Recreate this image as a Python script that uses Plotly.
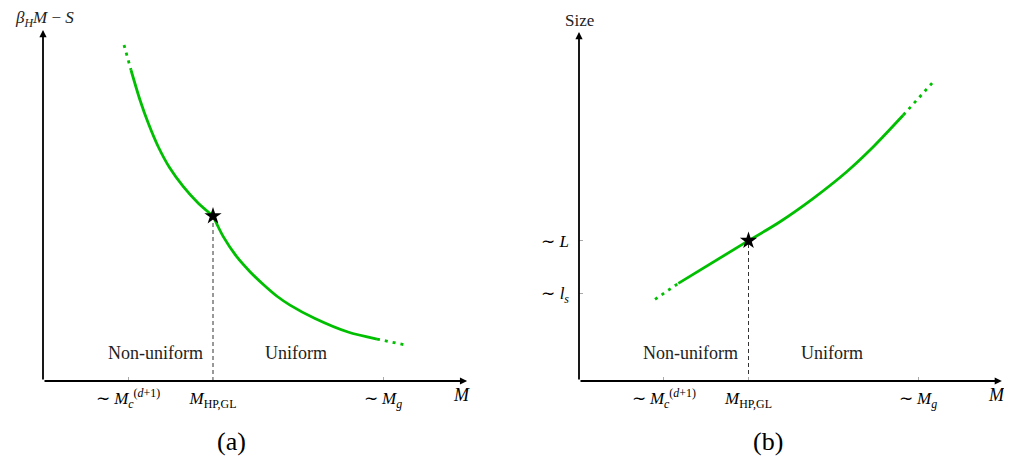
import plotly.graph_objects as go

# ---------------- data ----------------
# M in units where M_c^(d+1)=1, M_HP,GL=2, M_g=4
# panel (a): beta_H M - S ; non-uniform branch (first point = dotted extension end)
a_M_lo = [0.953, 1.035, 1.141, 1.239, 1.356, 1.494, 1.651, 1.827, 2.0]
a_val_lo = [3.953, 3.659, 3.306, 3.032, 2.756, 2.502, 2.286, 2.091, 1.941]
# uniform branch (last point = dotted extension end)
a_M_hi = [2.0, 2.121, 2.279, 2.435, 2.592, 2.749, 2.906, 3.2, 3.588, 3.929, 4.259]
a_val_hi = [1.941, 1.698, 1.462, 1.286, 1.135, 1.000, 0.893, 0.735, 0.576, 0.494, 0.424]

# panel (b): Size
b_M_lo = [0.897, 1.172, 2.0]
b_val_lo = [0.961, 1.149, 1.651]
b_M_hi = [2.0, 2.372, 2.765, 3.159, 3.473, 3.827, 4.181]
b_val_hi = [1.651, 1.874, 2.149, 2.462, 2.756, 3.129, 3.521]

star_M = 2.0

x_tickvals = [1, 2, 4]
x_ticktext = ["∼ <i>M</i><sub><i>c</i></sub><sup>(<i>d</i>+1)</sup>",
              "<i>M</i><sub>HP,GL</sub>",
              "∼ <i>M</i><sub><i>g</i></sub>"]
b_y_tickvals = [1.03, 1.651]
b_y_ticktext = ["∼ <i>l</i><sub><i>s</i></sub>", "∼ <i>L</i>"]

region_labels = ["Non-uniform", "Uniform"]
region_M = [1.318, 2.98]
region_val = 0.33

GREEN = "#00BF00"
FONT = "Liberation Serif"

# page has an 8px body margin
OFF = 8
W, H = 1012 - 2 * OFF, 464 - 2 * OFF


def px(x):
    return (x - OFF) / W


def py(y):
    return 1 - (y - OFF) / H


fig = go.Figure()


def add_branches(M_lo, V_lo, M_hi, V_hi, xa, ya):
    dot = dict(color=GREEN, width=2.8, dash="3px,5px")
    solid = dict(color=GREEN, width=2.8, shape="spline", smoothing=0.8)
    common = dict(mode="lines", xaxis=xa, yaxis=ya, showlegend=False, hoverinfo="skip")
    fig.add_trace(go.Scatter(x=M_lo[:2], y=V_lo[:2], line=dot, **common))
    fig.add_trace(go.Scatter(x=M_lo[1:], y=V_lo[1:], line=solid, **common))
    fig.add_trace(go.Scatter(x=M_hi[:-1], y=V_hi[:-1], line=solid, **common))
    fig.add_trace(go.Scatter(x=M_hi[-2:], y=V_hi[-2:], line=dot, **common))


def add_star(sv, xa, ya):
    fig.add_trace(go.Scatter(x=[star_M, star_M], y=[0, sv], mode="lines",
                             line=dict(color="#333333", width=1, dash="4px,3px"),
                             xaxis=xa, yaxis=ya, showlegend=False, hoverinfo="skip"))
    fig.add_trace(go.Scatter(x=[star_M], y=[sv], mode="markers",
                             marker=dict(symbol="star", size=13, color="black"),
                             xaxis=xa, yaxis=ya, showlegend=False, hoverinfo="skip"))


add_branches(a_M_lo, a_val_lo, a_M_hi, a_val_hi, "x", "y")
add_star(a_val_hi[0], "x", "y")
add_branches(b_M_lo, b_val_lo, b_M_hi, b_val_hi, "x2", "y2")
add_star(b_val_hi[0], "x2", "y2")

ax_common = dict(showgrid=False, zeroline=False, showline=False,
                 tickfont=dict(family=FONT, size=17, color="black"),
                 fixedrange=True)

xr = [0, 5]
ya_top = 351 / 85
yb_top = 349 / 85

fig.update_layout(
    width=W, height=H, autosize=False,
    margin=dict(l=0, r=0, t=0, b=0),
    paper_bgcolor="white", plot_bgcolor="white",
    font=dict(family=FONT, size=17, color="black"),
    xaxis=dict(domain=[px(43), px(468)], range=xr, anchor="y",
               tickvals=x_tickvals, ticktext=x_ticktext, ticklabelstandoff=5,
               ticks="inside", ticklen=4, tickcolor="#aaaaaa", **ax_common),
    yaxis=dict(domain=[py(381), py(30)], range=[0, ya_top], anchor="x",
               showticklabels=False, ticks="", **ax_common),
    xaxis2=dict(domain=[px(579), px(1002.75)], range=xr, anchor="y2",
                tickvals=x_tickvals, ticktext=x_ticktext, ticklabelstandoff=5,
                ticks="inside", ticklen=4, tickcolor="#aaaaaa", **ax_common),
    yaxis2=dict(domain=[py(381), py(32)], range=[0, yb_top], anchor="x2",
                tickvals=b_y_tickvals, ticktext=b_y_ticktext, ticklabelstandoff=9,
                ticks="inside", ticklen=4, tickcolor="#aaaaaa", **ax_common),
)

ann = []
for xa, ya, ytop in [("x", "y", ya_top), ("x2", "y2", yb_top)]:
    ann.append(dict(x=4.99, y=0, ax=0, ay=0, xref=xa, yref=ya, axref=xa, ayref=ya,
                    showarrow=True, arrowhead=2, arrowsize=0.8, arrowwidth=1.8,
                    arrowcolor="black", text=""))
    ann.append(dict(x=0, y=ytop, ax=0, ay=0, xref=xa, yref=ya, axref=xa, ayref=ya,
                    showarrow=True, arrowhead=2, arrowsize=0.8, arrowwidth=1.8,
                    arrowcolor="black", text=""))
    ann.append(dict(x=4.98, y=0, xref=xa, yref=ya, text="<i>M</i>", showarrow=False,
                    xanchor="center", yanchor="top", yshift=-2, xshift=-5,
                    font=dict(family=FONT, size=18)))
    for lab, m in zip(region_labels, region_M):
        ann.append(dict(x=m, y=region_val, xref=xa, yref=ya, text=lab, showarrow=False,
                        xanchor="center", yanchor="middle",
                        font=dict(family=FONT, size=18, color="#222222")))

ann.append(dict(x=px(44), y=py(19), xref="paper", yref="paper",
                xanchor="center", yanchor="middle",
                text="<i>β</i><sub><i>H</i></sub><i>M</i> − <i>S</i>", showarrow=False,
                font=dict(family=FONT, size=17, color="#222222")))
ann.append(dict(x=px(579), y=py(20), xref="paper", yref="paper",
                xanchor="center", yanchor="middle",
                text="Size", showarrow=False,
                font=dict(family=FONT, size=17, color="#222222")))
ann.append(dict(x=px(231), y=py(441), xref="paper", yref="paper", text="(a)",
                xanchor="center", yanchor="middle",
                showarrow=False, font=dict(family=FONT, size=26)))
ann.append(dict(x=px(768), y=py(441), xref="paper", yref="paper", text="(b)",
                xanchor="center", yanchor="middle",
                showarrow=False, font=dict(family=FONT, size=26)))

fig.update_layout(annotations=ann)

fig.write_html("out.html")
